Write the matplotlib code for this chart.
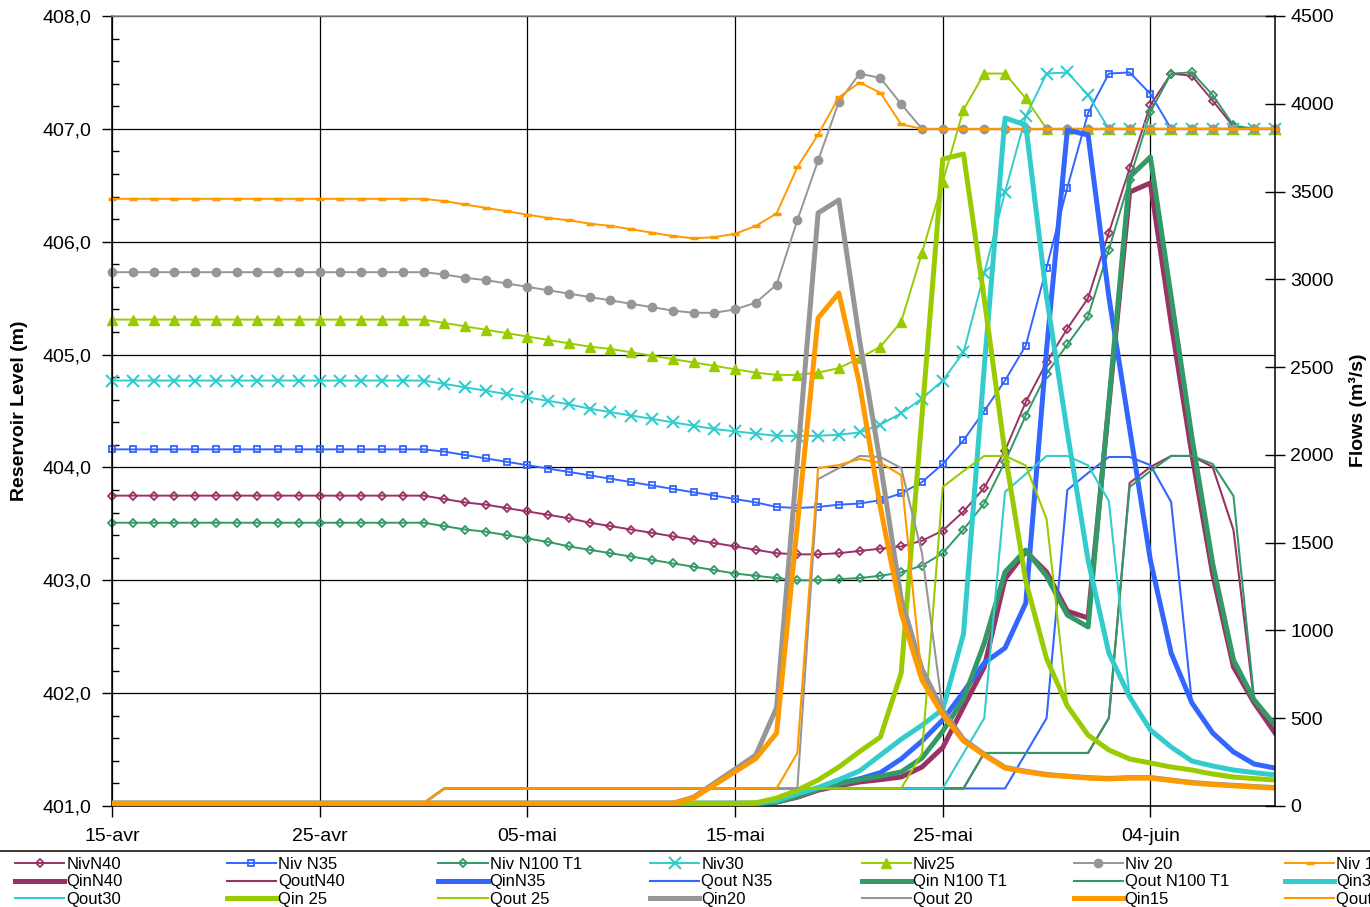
import numpy as np
import pandas as pd
import matplotlib
matplotlib.use('Agg')
import matplotlib.pyplot as plt
from matplotlib.ticker import MultipleLocator
from matplotlib.patches import Rectangle

plt.rcParams['font.family'] = ['Liberation Sans', 'DejaVu Sans']

# daily values, 15 April -> 10 June
days = pd.date_range('2008-04-15', periods=57, freq='D')
tick_days = pd.to_datetime(['2008-04-15', '2008-04-25', '2008-05-05',
                            '2008-05-15', '2008-05-25', '2008-06-04'])
tick_labels = ['15-avr', '25-avr', '05-mai', '15-mai', '25-mai', '04-juin']

# reservoir levels (m)
niv_n40 = [403.75]*16 + [403.72, 403.69, 403.67, 403.64, 403.61, 403.58, 403.55, 403.51, 403.48, 403.45,
                         403.42, 403.39, 403.36, 403.33, 403.30, 403.27, 403.24, 403.23, 403.23, 403.24,
                         403.26, 403.28, 403.30, 403.35, 403.44, 403.61, 403.82, 404.15, 404.58, 404.93,
                         405.23, 405.50, 406.08, 406.65, 407.21, 407.49, 407.47, 407.25, 407.02] + [407.0]*2
niv_n35 = [404.16]*16 + [404.14, 404.11, 404.08, 404.05, 404.02, 403.99, 403.96, 403.93, 403.90, 403.87,
                         403.84, 403.81, 403.78, 403.75, 403.72, 403.69, 403.65, 403.64, 403.65, 403.67,
                         403.68, 403.71, 403.77, 403.87, 404.03, 404.24, 404.50, 404.77, 405.08, 405.77,
                         406.48, 407.14, 407.49, 407.50, 407.31] + [407.0]*6
niv_n100 = [403.51]*16 + [403.48, 403.45, 403.43, 403.40, 403.37, 403.34, 403.30, 403.27, 403.24, 403.21,
                          403.18, 403.15, 403.12, 403.09, 403.06, 403.04, 403.02, 403.00, 403.00, 403.01,
                          403.02, 403.04, 403.07, 403.13, 403.24, 403.45, 403.68, 404.05, 404.46, 404.83,
                          405.09, 405.34, 405.93, 406.55, 407.15, 407.49, 407.50, 407.30, 407.03] + [407.0]*2
niv_30 = [404.77]*16 + [404.74, 404.71, 404.68, 404.65, 404.62, 404.59, 404.56, 404.52, 404.49, 404.46,
                        404.43, 404.40, 404.37, 404.34, 404.32, 404.30, 404.28, 404.28, 404.28, 404.29,
                        404.31, 404.38, 404.48, 404.61, 404.77, 405.02, 405.72, 406.44, 407.11, 407.49,
                        407.50, 407.30] + [407.0]*9
niv_25 = [405.31]*16 + [405.28, 405.25, 405.22, 405.19, 405.16, 405.13, 405.10, 405.07, 405.05, 405.02,
                        404.99, 404.96, 404.93, 404.90, 404.87, 404.84, 404.82, 404.82, 404.84, 404.88,
                        404.97, 405.07, 405.29, 405.90, 406.53, 407.17, 407.49, 407.49, 407.27] + [407.0]*12
niv_20 = [405.73]*16 + [405.71, 405.68, 405.66, 405.63, 405.60, 405.57, 405.54, 405.51, 405.48, 405.45,
                        405.42, 405.39, 405.37, 405.37, 405.40, 405.46, 405.62, 406.19, 406.72, 407.24,
                        407.49, 407.45, 407.22] + [407.0]*18
niv_15 = [406.38]*16 + [406.36, 406.33, 406.30, 406.27, 406.24, 406.21, 406.19, 406.16, 406.14, 406.11,
                        406.08, 406.05, 406.03, 406.04, 406.07, 406.14, 406.25, 406.66, 406.95, 407.28,
                        407.41, 407.32, 407.04] + [407.0]*18

# flows (m3/s)
qin_n40 = [15]*32 + [22, 50, 90, 115, 137, 150, 165, 222, 333, 564, 792, 1293, 1450, 1333, 1110, 1071,
                     2284, 3497, 3549, 2750, 2000, 1320, 792, 587, 416]
qout_n40 = [15]*16 + [100]*26 + [302]*6 + [501, 1840, 1931, 1994, 1994, 1931, 1572, 587, 416]
qin_n35 = [15]*32 + [25, 60, 100, 130, 155, 190, 268, 370, 490, 650, 815, 900, 1156, 2600, 3850, 3822,
                     2900, 2150, 1400, 871, 587, 416, 308, 239, 216]
qout_n35 = [15]*16 + [100]*28 + [300, 500, 1800, 1897, 1988, 1988, 1942, 1731, 587, 416, 308, 239, 216]
qin_n100 = [15]*32 + [22, 55, 95, 125, 150, 170, 194, 273, 425, 610, 928, 1333, 1458, 1310, 1088, 1020,
                      2300, 3583, 3697, 2900, 2100, 1380, 832, 604, 461]
qout_n100 = [15]*16 + [100]*26 + [302]*6 + [501, 1817, 1908, 1994, 1994, 1948, 1766, 604, 461]
qin_30 = [15]*32 + [30, 70, 105, 150, 200, 290, 380, 460, 550, 980, 2500, 3919, 3879, 2900, 2130, 1400,
                    871, 621, 433, 336, 256, 228, 205, 190, 177]
qout_30 = [15]*16 + [100]*25 + [300, 500, 1789, 1891, 1994, 1994, 1940, 1737, 621, 433, 336, 256, 228,
                                205, 190, 177]
qin_25 = [15]*31 + [18, 45, 90, 148, 222, 310, 393, 757, 2220, 3685, 3714, 2888, 2011, 1280, 840, 570,
                    404, 319, 268, 245, 222, 205, 182, 165, 156, 148]
qout_25 = [15]*16 + [100]*23 + [300, 1817, 1908, 1994, 1994, 1940, 1635, 570, 404, 319, 268, 245, 222,
                                205, 182, 165, 156, 148]
qin_20 = [15]*28 + [50, 130, 210, 290, 560, 1970, 3378, 3452, 2650, 1950, 1180, 780, 545, 380, 295, 220,
                    198, 180, 170, 162, 157, 162, 162, 148, 134, 125, 118, 111, 105]
qout_20 = [15]*16 + [100]*18 + [1862, 1925, 1994, 1988, 1925, 1441, 545, 380, 295, 220, 198, 180, 170,
                                162, 157, 162, 162, 148, 134, 125, 118, 111, 105]
qin_15 = [15]*28 + [45, 120, 195, 270, 415, 1600, 2780, 2922, 2400, 1700, 1100, 718, 520, 370, 290, 216,
                    195, 177, 168, 159, 154, 159, 159, 145, 131, 122, 115, 108, 102]
qout_15 = [15]*16 + [100]*17 + [302, 1925, 1942, 1977, 1954, 1885, 718, 520, 370, 290, 216, 195, 177,
                                168, 159, 154, 159, 159, 145, 131, 122, 115, 108, 102]

c_n40, c_n35, c_n100 = '#993366', '#3366FF', '#339966'
c_30, c_25, c_20, c_15 = '#33CCCC', '#99CC00', '#969696', '#FF9900'

fig = plt.figure(figsize=(13.7, 9.07), dpi=100)
ax = fig.add_axes([112/1370, 1-806/907, (1275-112)/1370, (806-16)/907])
ax2 = ax.twinx()

lw_niv, lw_in, lw_out = 1.4, 3.6, 1.5
h = {}
h['NivN40'], = ax.plot(days, niv_n40, color=c_n40, lw=lw_niv, marker='D', ms=4.5, mfc='none', mew=1.3, clip_on=False)
h['Niv N35'], = ax.plot(days, niv_n35, color=c_n35, lw=lw_niv, marker='s', ms=5, mfc='none', mew=1.3, clip_on=False)
h['Niv N100 T1'], = ax.plot(days, niv_n100, color=c_n100, lw=lw_niv, marker='D', ms=4.5, mfc='none', mew=1.3, clip_on=False)
h['Niv30'], = ax.plot(days, niv_30, color=c_30, lw=lw_niv, marker='x', ms=8, mew=1.5, clip_on=False)
h['Niv25'], = ax.plot(days, niv_25, color=c_25, lw=lw_niv, marker='^', ms=6.5, clip_on=False)
h['Niv 20'], = ax.plot(days, niv_20, color=c_20, lw=lw_niv, marker='o', ms=6, clip_on=False)
h['Niv 15'], = ax.plot(days, niv_15, color=c_15, lw=lw_niv, marker='_', ms=6, mew=2.5, clip_on=False)

h['QinN40'], = ax2.plot(days, qin_n40, color=c_n40, lw=lw_in)
h['QoutN40'], = ax2.plot(days, qout_n40, color=c_n40, lw=lw_out)
h['QinN35'], = ax2.plot(days, qin_n35, color=c_n35, lw=lw_in)
h['Qout N35'], = ax2.plot(days, qout_n35, color=c_n35, lw=lw_out)
h['Qin N100 T1'], = ax2.plot(days, qin_n100, color=c_n100, lw=lw_in)
h['Qout N100 T1'], = ax2.plot(days, qout_n100, color=c_n100, lw=lw_out)
h['Qin30'], = ax2.plot(days, qin_30, color=c_30, lw=lw_in)
h['Qout30'], = ax2.plot(days, qout_30, color=c_30, lw=lw_out)
h['Qin 25'], = ax2.plot(days, qin_25, color=c_25, lw=lw_in)
h['Qout 25'], = ax2.plot(days, qout_25, color=c_25, lw=lw_out)
h['Qin20'], = ax2.plot(days, qin_20, color=c_20, lw=lw_in)
h['Qout 20'], = ax2.plot(days, qout_20, color=c_20, lw=lw_out)
h['Qin15'], = ax2.plot(days, qin_15, color=c_15, lw=lw_in)
h['Qout 15'], = ax2.plot(days, qout_15, color=c_15, lw=lw_out)

# axes
ax.set_xlim(days[0], days[-1])
ax.set_ylim(401, 408)
lev_ticks = np.arange(401, 409)
ax.set_yticks(lev_ticks)
ax.set_yticklabels([f'{v:.1f}'.replace('.', ',') for v in lev_ticks])
ax.yaxis.set_minor_locator(MultipleLocator(0.2))
ax.set_xticks(tick_days)
ax.set_xticklabels(tick_labels)
ax.tick_params(axis='y', which='major', direction='out', length=7, width=1, labelsize=14, pad=8)
ax.tick_params(axis='y', which='minor', direction='in', length=5, width=1)
ax.tick_params(axis='x', direction='out', length=8, width=1, labelsize=14, pad=8)
ax.grid(True, which='major', color='black', lw=0.9)
ax.set_axisbelow(True)

ax2.set_ylim(0, 4500)
ax2.set_yticks(np.arange(0, 4501, 500))
ax2.tick_params(axis='y', direction='inout', length=14, width=1, labelsize=14, pad=4)

ax.spines['top'].set_color('#909090')
ax.spines['right'].set_visible(False)
for s in ['top', 'left', 'bottom']:
    ax2.spines[s].set_visible(False)
for a in (ax, ax2):
    for s in a.spines.values():
        s.set_linewidth(1.1)

fig.text(20/1370, 1-411/907, 'Reservoir Level (m)', rotation=90, ha='center', va='center',
         fontsize=14, fontweight='bold')
fig.text(1358/1370, 1-410/907, 'Flows (m³/s)', rotation=90, ha='center', va='center',
         fontsize=14, fontweight='bold')

# legend: 7 columns x 3 rows, filled row by row (cut at the right edge as in the source)
rows = [['NivN40', 'Niv N35', 'Niv N100 T1', 'Niv30', 'Niv25', 'Niv 20', 'Niv 15'],
        ['QinN40', 'QoutN40', 'QinN35', 'Qout N35', 'Qin N100 T1', 'Qout N100 T1', 'Qin30'],
        ['Qout30', 'Qin 25', 'Qout 25', 'Qin20', 'Qout 20', 'Qin15', 'Qout 15']]
fig.add_artist(Rectangle((-0.01, -0.5), 1.02, 0.5 + 1 - 851/907, transform=fig.transFigure,
                         fill=False, edgecolor='black', lw=1.1))
for c in range(7):
    names = [rows[r][c] for r in range(3)]
    fig.legend([h[n] for n in names], names, loc='upper left',
               bbox_to_anchor=((15 + 211.7*c)/1370, 1-857/907),
               frameon=False, fontsize=12, borderpad=0, borderaxespad=0,
               handlelength=2.95, handletextpad=0.12, labelspacing=0.14)

fig.savefig('out.png', dpi=100)
